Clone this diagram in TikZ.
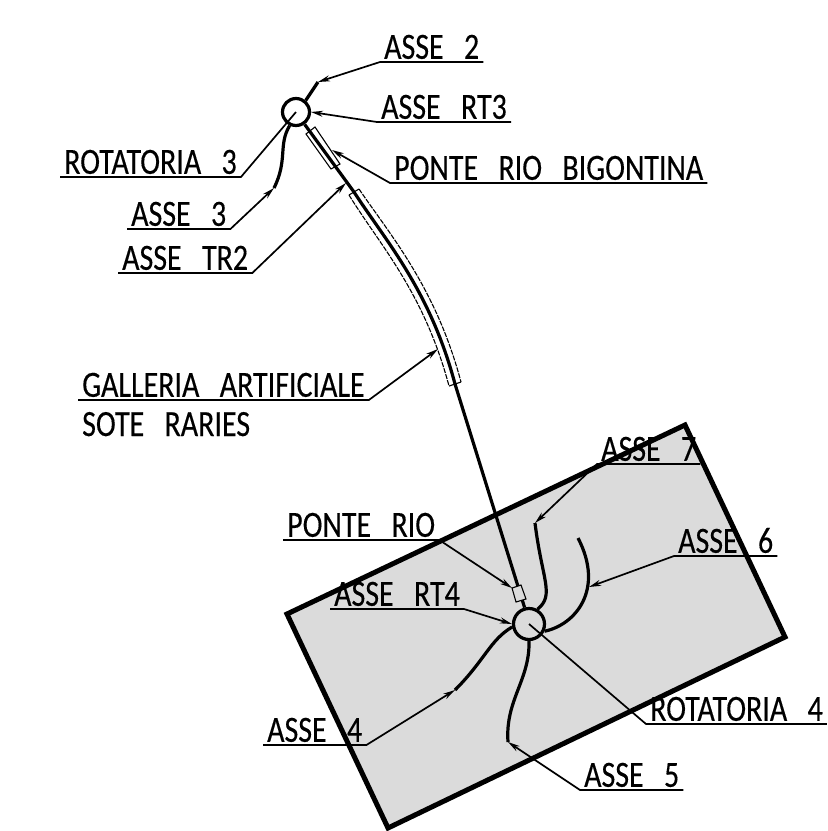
\documentclass[tikz,border=0pt]{standalone}
\usepackage{fontspec}
\setmainfont[FakeStretch=0.81,WordSpace=3.0,FakeBold=0.3]{Carlito}
\usetikzlibrary{arrows.meta}
\tikzset{
  lab/.style={inner xsep=4pt,inner ysep=3pt,text depth=0pt,anchor=south west,font=\fontsize{37}{37}\selectfont},
  leader/.style={line width=1.7pt,-{Stealth[length=12pt,width=6pt]}},
  plain/.style={line width=1.7pt},
  road/.style={line width=3.2pt},
  rota/.style={draw,circle,line width=3.2pt,inner sep=0pt}
}
\begin{document}
\begin{tikzpicture}[x=1pt,y=-1pt]
   \useasboundingbox (0,0) rectangle (828,831);
   % area
   \draw[line width=5pt,fill=black!14] (287,614) -- (685,425) -- (785,637) -- (388,828) -- cycle;
   % rotatorie
   \node[rota,minimum size=27pt] (rot3) at (296,112) {};
   \node[rota,minimum size=31pt] (rot4) at (529,624) {};
   % assi
   \coordinate (end2) at (318,82);
   \coordinate (end3) at (274,188);
   \coordinate (end4) at (455,690);
   \coordinate (end5) at (508,742);
   \coordinate (end6) at (578,538);
   \coordinate (end7) at (535,523);
   \draw[road] (rot3.50) -- (end2);
   \draw[road] (rot3.245) .. controls (278,145) and (288,160) .. (end3);
   \draw[road] (rot3.305) -- (354,192) .. controls (385,240) and (430,290) .. (455,384) -- (rot4.105);
   \draw[road] (rot4.190) .. controls (490,640) and (485,660) .. (end4);
   \draw[road] (rot4.270) .. controls (530,680) and (505,700) .. (end5);
   \draw[road] (rot4.335) .. controls (575,625) and (605,590) .. (end6);
   \draw[road] (rot4.60) .. controls (555,595) and (542,580) .. (end7);
   % galleria e ponti
   \draw[line width=1.1pt,dash pattern=on 5pt off 1.2pt] (359,189) .. controls (391,236) and (436,288) .. (461,382);
   \draw[line width=1.1pt,dash pattern=on 5pt off 1.2pt] (349,195) .. controls (379,244) and (424,292) .. (449,386);
   \draw[line width=1.1pt] (349,195) -- (359,189) (449,386) -- (461,382);
   \draw[line width=1.1pt] (306,134) -- (315,127) -- (340,164) -- (331,169) -- cycle;
   \draw[line width=1.1pt,fill=black!14] (512,588) -- (521,585) -- (526,599) -- (516,602) -- cycle;
   % etichette
   \node[lab] (asse2) at (380,62) {ASSE 2};
   \node[lab] (rt3) at (377,122) {ASSE RT3};
   \node[lab] (bigontina) at (390,183) {PONTE RIO BIGONTINA};
   \node[lab] (rotlab3) at (60,177) {ROTATORIA 3};
   \node[lab] (asse3) at (127,229) {ASSE 3};
   \node[lab] (tr2) at (118,273) {ASSE TR2};
   \node[lab] (galleria) at (78,400) {GALLERIA ARTIFICIALE};
   \node[lab,anchor=west] (sote) at (78,424) {SOTE RARIES};
   \node[lab] (ponte) at (283,540) {PONTE RIO};
   \node[lab] (rt4) at (330,609) {ASSE RT4};
   \node[lab] (asse7) at (597,464) {ASSE 7};
   \node[lab] (asse6) at (674,556) {ASSE 6};
   \node[lab] (rotlab4) at (646,724) {ROTATORIA 4};
   \node[lab] (asse5) at (580,790) {ASSE 5};
   \node[lab] (asse4) at (263,745) {ASSE 4};
   % linee di richiamo
   \draw[leader] (asse2.south east) -- (asse2.south west) -- (end2);
   \draw[leader] (rt3.south east) -- (rt3.south west) -- (311,112);
   \draw[leader] (bigontina.south east) -- (bigontina.south west) -- (332,150);
   \draw[plain] (rotlab3.south west) -- (rotlab3.south east) -- (rot3.center);
   \draw[leader] (asse3.south west) -- (asse3.south east) -- (end3);
   \draw[leader] (tr2.south west) -- (tr2.south east) -- (346,183);
   \draw[leader] (galleria.south west) -- (galleria.south east) -- (438,349);
   \draw[leader] (ponte.south west) -- (ponte.south east) -- (512,588);
   \draw[leader] (rt4.south west) -- (rt4.south east) -- (rot4.west);
   \draw[leader] (asse7.south east) -- (asse7.south west) -- (end7);
   \draw[leader] (asse6.south east) -- (asse6.south west) -- (589,587);
   \draw[plain] (rotlab4.south east) -- (rotlab4.south west) -- (rot4.center);
   \draw[leader] (asse5.south east) -- (asse5.south west) -- (end5);
   \draw[leader] (asse4.south west) -- (asse4.south east) -- (end4);
\end{tikzpicture}
\end{document}
